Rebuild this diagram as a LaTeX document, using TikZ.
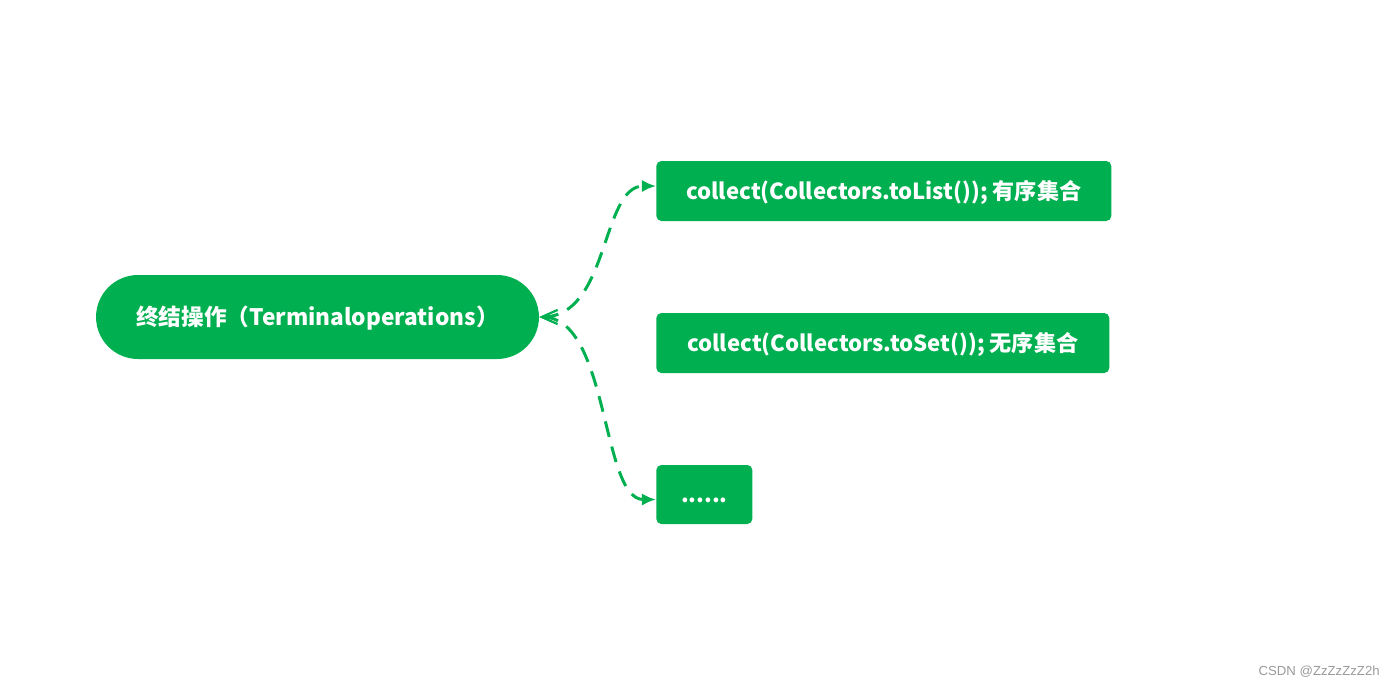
\documentclass[tikz,border=0pt]{standalone}
\usepackage{fontspec}
\setmainfont{Noto Sans CJK SC}
\newfontfamily\markfont{Liberation Sans}
\usepackage{xcolor}
\definecolor{mapgreen}{HTML}{00B050}
\definecolor{markgray}{HTML}{9A9A9A}
\usepackage{tikz}
\usetikzlibrary{calc,positioning,arrows.meta}

\begin{document}
\begin{tikzpicture}[x=0.02cm,y=-0.02cm]
        \useasboundingbox (0,0) rectangle (1395,687);
        \node[rectangle,rounded corners=0.84cm,
              fill=mapgreen,text=white,
              minimum width=8.86cm,minimum height=1.68cm,align=center,
              text height=0.36cm,text depth=0.04cm,
              font=\fontsize{12.9}{15}\selectfont\bfseries]
              (term) at (317.5,317) {终结操作（Terminaloperations）};
        \node[rectangle,rounded corners=0.1cm,
              fill=mapgreen,text=white,anchor=west,
              minimum width=9.1cm,minimum height=1.2cm,
              text height=0.36cm,text depth=0.04cm,
              font=\fontsize{12.6}{15}\selectfont\bfseries]
              (tolist) at (656,191) {collect(Collectors.toList()); 有序集合};
        \node[rectangle,rounded corners=0.1cm,
              fill=mapgreen,text=white,anchor=west,
              minimum width=9.06cm,minimum height=1.2cm,
              text height=0.36cm,text depth=0.04cm,
              font=\fontsize{12.6}{15}\selectfont\bfseries]
              (toset) at (656,343) {collect(Collectors.toSet()); 无序集合};
        \node[rectangle,rounded corners=0.1cm,
              fill=mapgreen,text=white,anchor=west,
              minimum width=1.92cm,minimum height=1.18cm,
              text height=0.36cm,text depth=0.04cm,
              font=\fontsize{12.6}{15}\selectfont\bfseries]
              (more) at (656,494.5) {......};
        \draw[{Straight Barb[length=9pt,width=8pt,line width=1.1pt]}-{Latex[length=8pt,width=7pt]},
              mapgreen,line width=1.7pt,dash pattern=on 0.32cm off 0.2cm]
              (term.east) .. controls +(70,0) and +(-55,0) .. ($(tolist.west)+(0,-5)$);
        \draw[{Straight Barb[length=9pt,width=8pt,line width=1.1pt]}-{Latex[length=8pt,width=7pt]},
              mapgreen,line width=1.7pt,dash pattern=on 0.32cm off 0.2cm]
              (term.east) .. controls +(70,0) and +(-55,0) .. ($(more.west)+(0,5)$);
        \node[anchor=south east,text=markgray,inner sep=0pt,
              font=\markfont\fontsize{7.5}{9}\selectfont]
              (mark) at (1380,678) {CSDN @ZzZzZzZ2h};
      \end{tikzpicture}
\end{document}
